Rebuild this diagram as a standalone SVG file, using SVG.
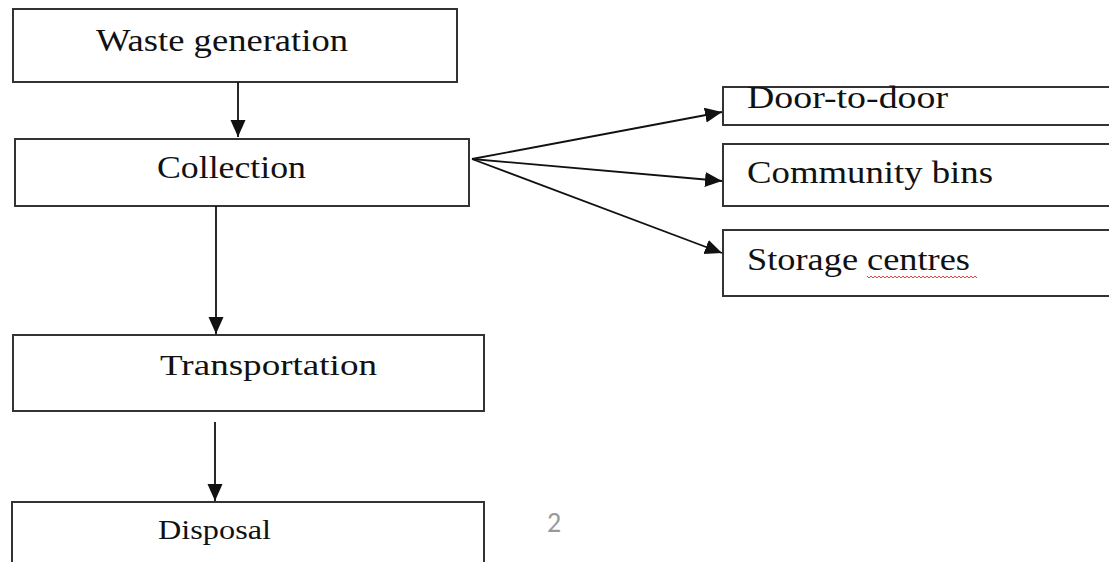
<svg xmlns="http://www.w3.org/2000/svg" width="1109" height="562" viewBox="0 0 1109 562">
<style>
.box{fill:#fff;stroke:#333;stroke-width:2}
.t{font-family:"Liberation Serif","Times New Roman",serif;fill:#111}
.c{fill:none;stroke:#111;stroke-width:1.8}
</style>
<defs>
<marker id="ah" markerUnits="userSpaceOnUse" markerWidth="18" markerHeight="16" refX="17" refY="7.5" orient="auto">
<path d="M0,0 L17,7.5 L0,15 z" fill="#111"/>
</marker>
</defs>
<rect width="1109" height="562" fill="#fff"/>
<g id="waste-generation">
<rect class="box" x="13" y="9" width="444" height="73"/>
<text class="t" x="96" y="51" font-size="31" textLength="252" lengthAdjust="spacingAndGlyphs">Waste generation</text>
</g>
<g id="collection">
<rect class="box" x="15" y="139" width="454" height="67"/>
<text class="t" x="157" y="178" font-size="31" textLength="149" lengthAdjust="spacingAndGlyphs">Collection</text>
</g>
<g id="transportation">
<rect class="box" x="13" y="335" width="471" height="76"/>
<text class="t" x="160" y="375" font-size="30" textLength="217" lengthAdjust="spacingAndGlyphs">Transportation</text>
</g>
<g id="disposal">
<rect class="box" x="12" y="502" width="472" height="70"/>
<text class="t" x="158" y="539" font-size="28" textLength="113" lengthAdjust="spacingAndGlyphs">Disposal</text>
</g>
<g id="door-to-door">
<rect class="box" x="723" y="87" width="400" height="38"/>
<text class="t" x="747" y="108" font-size="31" textLength="201" lengthAdjust="spacingAndGlyphs">Door-to-door</text>
</g>
<g id="community-bins">
<rect class="box" x="723" y="144" width="400" height="62"/>
<text class="t" x="747" y="183" font-size="31" textLength="246" lengthAdjust="spacingAndGlyphs">Community bins</text>
</g>
<g id="storage-centres">
<rect class="box" x="723" y="230" width="400" height="66"/>
<text class="t" x="747" y="270" font-size="31" textLength="223" lengthAdjust="spacingAndGlyphs">Storage centres</text>
<path d="M867,276 l2,2 l2,-2 l2,2 l2,-2 l2,2 l2,-2 l2,2 l2,-2 l2,2 l2,-2 l2,2 l2,-2 l2,2 l2,-2 l2,2 l2,-2 l2,2 l2,-2 l2,2 l2,-2 l2,2 l2,-2 l2,2 l2,-2 l2,2 l2,-2 l2,2 l2,-2 l2,2 l2,-2 l2,2 l2,-2 l2,2 l2,-2 l2,2 l2,-2 l2,2 l2,-2 l2,2 l2,-2 l2,2 l2,-2 l2,2 l2,-2 l2,2 l2,-2 l2,2 l2,-2 l2,2 l2,-2 l2,2 l2,-2 l2,2 l2,-2 l2,2" fill="none" stroke="#e04848" stroke-width="1"/>
</g>
<g id="page-number">
<text x="547" y="532" font-family="Carlito,'Liberation Sans',Arial,sans-serif" font-size="28" fill="#9a9a9a">2</text>
</g>
<g id="connectors">
<path class="c" d="M238,82 L238,137" marker-end="url(#ah)"/>
<path class="c" d="M216,206 L216,334" marker-end="url(#ah)"/>
<path class="c" d="M215,422 L215,501" marker-end="url(#ah)"/>
<path class="c" d="M472,159 L722,112" marker-end="url(#ah)"/>
<path class="c" d="M472,159 L722,181" marker-end="url(#ah)"/>
<path class="c" d="M472,159 L722,253" marker-end="url(#ah)"/>
</g>
</svg>
